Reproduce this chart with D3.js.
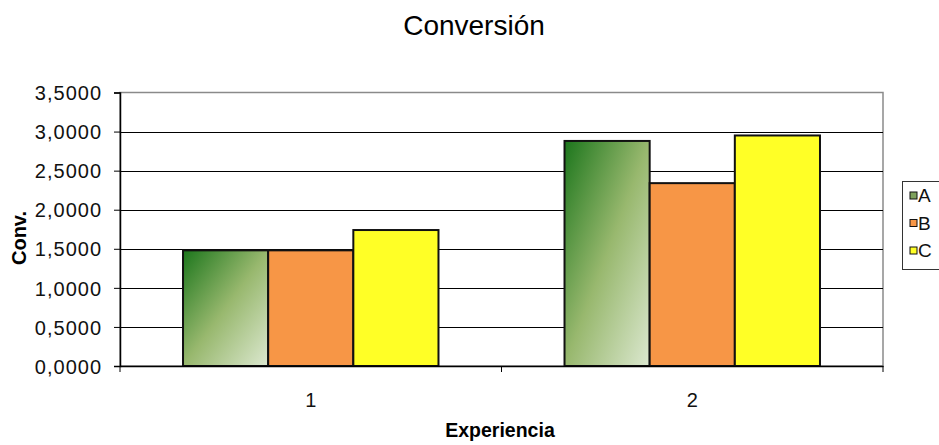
<!DOCTYPE html>
<html>
<head>
<meta charset="utf-8">
<script src="https://cdn.jsdelivr.net/npm/d3@7"></script>
<style>
	body { margin: 0; background: #fff; }
	svg { display: block; font-family: 'Liberation Sans', Arial, sans-serif; }
	.grid line { stroke: #000; stroke-width: 1; }
	.label { fill: #000; }
</style>
</head>
<body>
<svg id="chart"></svg>
<script>
// data
let experiences = ['1', '2'];
let series = ['A', 'B', 'C'];
let valuesA = [1.48, 2.88];
let valuesB = [1.48, 2.34];
let valuesC = [1.74, 2.95];
let yTicks = [0, 0.5, 1, 1.5, 2, 2.5, 3, 3.5];

let rows = experiences.map(function(e, i) {
	return { exp: e, values: [
		{ key: 'A', value: valuesA[i] },
		{ key: 'B', value: valuesB[i] },
		{ key: 'C', value: valuesC[i] }
	] };
});

let width = 939, height = 445;
let plot = { left: 120, right: 883, top: 92.5, bottom: 366 };

let svg = d3.select('svg#chart')
	.attr('width', width)
	.attr('height', height);

let defs = svg.append('defs');
let grad = defs.append('linearGradient')
	.attr('id', 'green-grad')
	.attr('x1', '0').attr('y1', '0')
	.attr('x2', '1').attr('y2', '1');
grad.append('stop').attr('offset', '0%').attr('stop-color', '#1c761c');
grad.append('stop').attr('offset', '50%').attr('stop-color', '#98b86e');
grad.append('stop').attr('offset', '100%').attr('stop-color', '#dce8d0');

let fills = { A: 'url(#green-grad)', B: '#f79646', C: '#ffff26' };
let legendFills = { A: '#7ea15c', B: '#f79646', C: '#ffff26' };

let x0 = d3.scaleBand()
	.domain(experiences)
	.range([plot.left, plot.right])
	.padding(0);

let x1 = d3.scaleBand()
	.domain(series)
	.range([0, x0.bandwidth()])
	.paddingInner(0)
	.paddingOuter(0.74);

let y = d3.scaleLinear()
	.domain([0, 3.5])
	.range([plot.bottom, plot.top]);

let locale = d3.formatLocale({ decimal: ',', thousands: '.', grouping: [3], currency: ['', ''] });
let fmt = locale.format('.4f');

// plot area border
svg.append('rect')
	.attr('x', plot.left)
	.attr('y', plot.top)
	.attr('width', plot.right - plot.left)
	.attr('height', plot.bottom - plot.top)
	.style('fill', 'none')
	.style('stroke', '#8a8a8a')
	.style('stroke-width', 1.5);

// gridlines
svg.append('g')
	.attr('class', 'grid')
	.selectAll('line')
	.data(yTicks.filter(function(d) { return d > 0 && d < 3.5 }))
	.enter()
	.append('line')
	.attr('x1', plot.left)
	.attr('x2', plot.right)
	.attr('y1', function(d) { return Math.round(y(d)) + 0.5 })
	.attr('y2', function(d) { return Math.round(y(d)) + 0.5 });

// bars
let groups = svg.selectAll('.group')
	.data(rows)
	.enter()
	.append('g')
	.attr('class', 'group')
	.attr('transform', function(d) { return 'translate(' + x0(d.exp) + ',0)' });

groups.selectAll('rect')
	.data(function(d) { return d.values })
	.enter()
	.append('rect')
	.attr('x', function(d) { return x1(d.key) })
	.attr('y', function(d) { return y(d.value) })
	.attr('width', x1.bandwidth())
	.attr('height', function(d) { return y(0) - y(d.value) })
	.style('fill', function(d) { return fills[d.key] })
	.style('stroke', '#111')
	.style('stroke-width', 2);

// y axis
let yAxis = svg.append('g')
	.attr('transform', 'translate(' + plot.left + ',0)')
	.call(d3.axisLeft(y).tickValues(yTicks).tickFormat(fmt).tickSize(6).tickPadding(12));
yAxis.select('.domain').style('stroke', '#000').style('stroke-width', 1.5);
yAxis.selectAll('.tick line').style('stroke', '#000');
yAxis.selectAll('text')
	.style('font-size', '20px')
	.style('letter-spacing', '1px')
	.style('fill', '#111')
	.attr('dy', '0.36em');

// x axis
let xAxis = svg.append('g')
	.attr('transform', 'translate(0,' + plot.bottom + ')')
	.call(d3.axisBottom(x0).tickSize(0).tickPadding(27));
xAxis.select('.domain').style('stroke', '#000').style('stroke-width', 1.5);
xAxis.selectAll('text')
	.style('font-size', '20px')
	.style('fill', '#111');
// category boundary ticks
xAxis.selectAll('.boundary')
	.data(experiences.map(function(d) { return x0(d) }).concat([x0.range()[1]]))
	.enter()
	.append('line')
	.attr('class', 'boundary')
	.attr('x1', function(d) { return d })
	.attr('x2', function(d) { return d })
	.attr('y1', 0)
	.attr('y2', 6)
	.style('stroke', '#000');

// titles
svg.append('text')
	.attr('class', 'label')
	.attr('x', 474)
	.attr('y', 35)
	.attr('text-anchor', 'middle')
	.style('font-size', '28px')
	.text('Conversión');

svg.append('text')
	.attr('class', 'label')
	.attr('x', 500)
	.attr('y', 437)
	.attr('text-anchor', 'middle')
	.style('font-size', '19.5px')
	.style('font-weight', 'bold')
	.text('Experiencia');

svg.append('text')
	.attr('class', 'label')
	.attr('transform', 'translate(26,238) rotate(-90)')
	.attr('text-anchor', 'middle')
	.style('font-size', '20px')
	.style('font-weight', 'bold')
	.text('Conv.');

// legend
let legend = svg.append('g').attr('transform', 'translate(902,181)');
legend.append('rect')
	.attr('x', 0.5)
	.attr('y', 0.5)
	.attr('width', 60)
	.attr('height', 88)
	.style('fill', '#fff')
	.style('stroke', '#333')
	.style('stroke-width', 1);

let item = legend.selectAll('.item')
	.data(series)
	.enter()
	.append('g')
	.attr('class', 'item')
	.attr('transform', function(d, i) { return 'translate(0,' + (14.5 + i * 27.5) + ')' });

item.append('rect')
	.attr('x', 8)
	.attr('y', -3.5)
	.attr('width', 7)
	.attr('height', 7)
	.style('fill', function(d) { return legendFills[d] })
	.style('stroke', '#111')
	.style('stroke-width', 1);

item.append('text')
	.attr('x', 16)
	.attr('y', 0)
	.attr('dy', '0.36em')
	.style('font-size', '19px')
	.style('fill', '#111')
	.text(function(d) { return d });
</script>
</body>
</html>
